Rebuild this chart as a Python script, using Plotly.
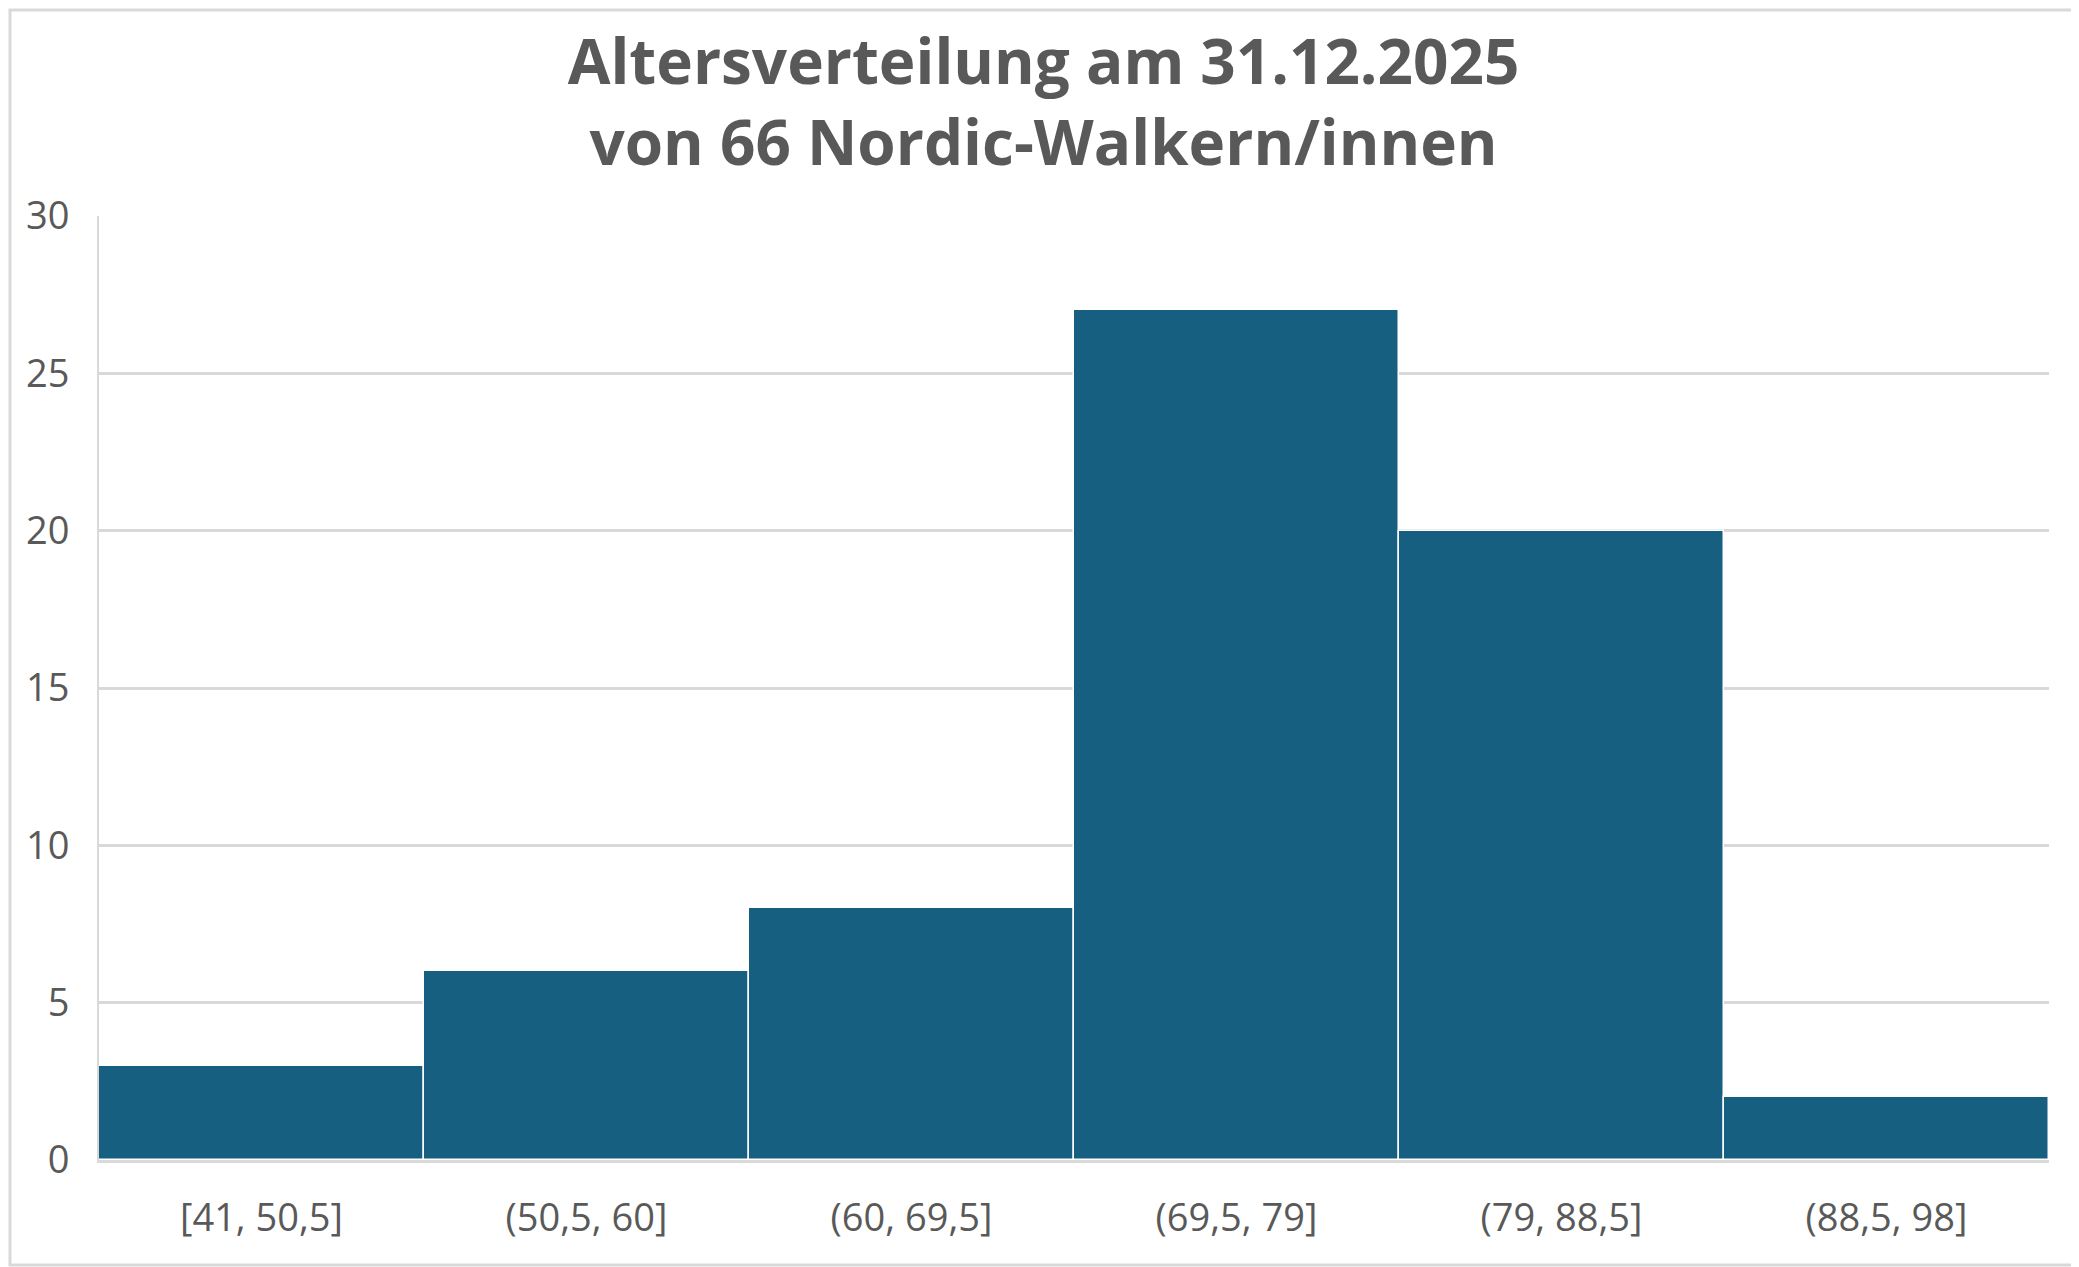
import plotly.graph_objects as go

categories = ["[41, 50,5]", "(50,5, 60]", "(60, 69,5]", "(69,5, 79]", "(79, 88,5]", "(88,5, 98]"]
counts = [3, 6, 8, 27, 20, 2]
yTicks = [0, 5, 10, 15, 20, 25, 30]
graphTitle = "Altersverteilung am 31.12.2025<br>von 66 Nordic-Walkern/innen"

# the page body adds an 8px margin, so the figure is a bit smaller than the window
W, H = 2071, 1259
mL, mR, mT, mB = 91, 30, 208, 107
textColor = "#595959"
gridColor = "#d9d9d9"
fontName = "Open Sans, Liberation Sans, Arial"

fig = go.Figure(go.Bar(
    x=categories, y=counts,
    marker=dict(color="#175f80", line=dict(color="white", width=1.5)),
))

fig.update_layout(
    width=W, height=H,
    margin=dict(l=mL, r=mR, t=mT, b=mB),
    bargap=0,
    plot_bgcolor="white", paper_bgcolor="white",
    font=dict(family=fontName, color=textColor),
    title=dict(text=graphTitle, x=0.5, xanchor="center", y=1 - 76 / H, yanchor="top",
               font=dict(size=62, color=textColor, family=fontName, weight="bold")),
    showlegend=False,
)
fig.update_xaxes(
    showgrid=False, showline=True, linecolor=gridColor, linewidth=3,
    tickfont=dict(size=38, color=textColor), ticks="", ticklabelstandoff=22,
)
fig.update_yaxes(
    range=[0, 30], tickvals=yTicks, showgrid=True, gridcolor=gridColor, gridwidth=3,
    showline=True, linecolor=gridColor, linewidth=2, zeroline=False,
    tickfont=dict(size=38, color=textColor), ticks="", ticklabelstandoff=20,
)

# grey frame around the whole chart area
fig.add_shape(type="rect", xref="paper", yref="paper",
              x0=-(mL - 2) / (W - mL - mR), x1=1 + (mR - 2) / (W - mL - mR),
              y0=-(mB - 2) / (H - mT - mB), y1=1 + (mT - 2) / (H - mT - mB),
              line=dict(color=gridColor, width=3), layer="below")

fig.write_html("out.html")
